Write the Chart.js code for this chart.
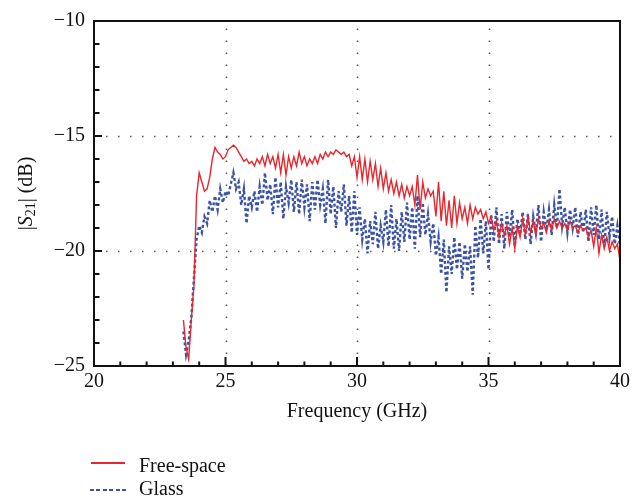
<!DOCTYPE html>
<html>
<head>
<meta charset="utf-8">
<script src="https://cdn.jsdelivr.net/npm/chart.js@4.4.1/dist/chart.umd.min.js"></script>
<style>
    body { margin: 0; background: #fff; }
    #wrap { position: relative; width: 634px; height: 504px; }
    #grafico { position: absolute; left: 0; top: 0; }
    .leg-linha { position: absolute; height: 2px; }
    .leg-texto { position: absolute; font: 20px "Liberation Serif", serif; line-height: 20px; color: #111; }
</style>
</head>
<body>
<div id="wrap">
    <canvas id="grafico" width="634" height="504"></canvas>
    <div class="leg-linha" style="left:91px; top:462px; width:34px; background:#e8262d;"></div>
    <div class="leg-texto" style="left:139px; top:455px;">Free-space</div>
    <div class="leg-linha" style="left:90px; top:489px; width:37px; background:repeating-linear-gradient(90deg, #3b53a4 0 4px, transparent 4px 6.5px);"></div>
    <div class="leg-texto" style="left:139px; top:478px;">Glass</div>
</div>
<script>
// frequencias (GHz)
const frequencias = [
    23.4, 23.5, 23.6, 23.7, 23.8, 23.9, 24.0, 24.1, 24.2, 24.3, 24.4, 24.5, 24.6, 24.7, 24.8, 24.9,
    25.0, 25.1, 25.2, 25.3, 25.4, 25.5, 25.6, 25.7, 25.8, 25.9, 26.0, 26.1, 26.2, 26.3, 26.4, 26.5,
    26.6, 26.7, 26.8, 26.9, 27.0, 27.1, 27.2, 27.3, 27.4, 27.5, 27.6, 27.7, 27.8, 27.9, 28.0, 28.1,
    28.2, 28.3, 28.4, 28.5, 28.6, 28.7, 28.8, 28.9, 29.0, 29.1, 29.2, 29.3, 29.4, 29.5, 29.6, 29.7,
    29.8, 29.9, 30.0, 30.1, 30.2, 30.3, 30.4, 30.5, 30.6, 30.7, 30.8, 30.9, 31.0, 31.1, 31.2, 31.3,
    31.4, 31.5, 31.6, 31.7, 31.8, 31.9, 32.0, 32.1, 32.2, 32.3, 32.4, 32.5, 32.6, 32.7, 32.8, 32.9,
    33.0, 33.1, 33.2, 33.3, 33.4, 33.5, 33.6, 33.7, 33.8, 33.9, 34.0, 34.1, 34.2, 34.3, 34.4, 34.5,
    34.6, 34.7, 34.8, 34.9, 35.0, 35.1, 35.2, 35.3, 35.4, 35.5, 35.6, 35.7, 35.8, 35.9, 36.0, 36.1,
    36.2, 36.3, 36.4, 36.5, 36.6, 36.7, 36.8, 36.9, 37.0, 37.1, 37.2, 37.3, 37.4, 37.5, 37.6, 37.7,
    37.8, 37.9, 38.0, 38.1, 38.2, 38.3, 38.4, 38.5, 38.6, 38.7, 38.8, 38.9, 39.0, 39.1, 39.2, 39.3,
    39.4, 39.5, 39.6, 39.7, 39.8, 39.9, 40.0
];

// |S21| espaco livre (dB)
const espacoLivre = [
    -23.0, -24.2, -24.7, -23.0, -21.5, -17.6, -16.6, -17.0, -17.4, -17.3, -16.8, -16.0, -15.5, -15.7, -15.8, -16.0,
    -15.9, -15.6, -15.5, -15.4, -15.5, -15.7, -15.9, -16.1, -16.0, -16.2, -16.1, -16.3, -16.0, -16.2, -15.9, -16.3,
    -15.8, -16.2, -15.9, -16.4, -15.8, -16.6, -15.8, -16.7, -15.9, -16.4, -15.9, -16.3, -15.7, -16.2, -15.9, -16.3,
    -16.0, -16.2, -15.9, -16.2, -15.8, -16.0, -15.7, -15.9, -15.7, -15.8, -15.6, -15.7, -15.8, -15.7, -15.9, -15.8,
    -16.3, -15.9, -16.8, -15.9, -16.9, -16.0, -17.0, -16.1, -16.9, -16.2, -17.2, -16.4, -17.3, -16.6, -17.4, -16.9,
    -17.5, -17.0, -17.6, -17.1, -17.7, -17.2, -17.6, -17.2, -18.0, -16.7, -18.2, -17.0, -17.7, -17.3, -17.6, -17.4,
    -18.5, -17.0, -18.7, -17.4, -18.9, -17.8, -19.0, -17.6, -18.8, -17.9, -18.6, -18.1, -18.8, -18.0, -18.6, -18.1,
    -18.4, -18.2, -18.6, -18.3, -18.8, -18.5, -19.1, -18.7, -19.4, -18.8, -19.3, -18.9, -19.7, -19.0, -19.9, -18.9,
    -19.4, -18.6, -19.3, -18.5, -19.2, -18.7, -19.3, -18.6, -19.0, -18.8, -19.2, -18.7, -19.1, -18.6, -19.0, -18.7,
    -19.0, -18.8, -19.1, -18.7, -19.0, -18.9, -19.2, -18.9, -19.1, -19.0, -19.4, -19.1, -19.8, -19.0, -20.1, -19.3,
    -19.9, -19.4, -20.0, -19.6, -19.9, -19.7, -20.4
];

// |S21| vidro (dB)
const vidro = [
    -23.5, -24.5, -23.9, -22.9, -21.2, -19.5, -18.9, -19.2, -18.5, -18.8, -17.8, -18.3, -17.6, -18.2, -17.3, -17.9,
    -17.4, -17.6, -17.1, -16.6, -17.3, -17.0, -18.0, -17.3, -18.8, -17.6, -18.1, -17.4, -18.3, -17.2, -18.0, -16.6,
    -17.8, -17.1, -18.4, -16.8, -18.1, -17.0, -18.6, -17.2, -17.9, -16.9, -18.3, -17.0, -18.4, -16.9, -18.1, -17.1,
    -18.7, -17.0, -18.2, -16.9, -18.0, -17.3, -18.8, -16.9, -18.4, -17.2, -19.0, -17.4, -18.3, -17.1, -18.9, -17.6,
    -19.2, -17.4, -19.3, -18.1, -19.5, -18.6, -20.1, -18.7, -19.7, -18.3, -19.9, -18.9, -19.6, -18.2, -19.8, -18.0,
    -19.9, -18.6, -20.0, -18.3, -19.6, -17.9, -19.5, -18.1, -19.9, -17.6, -19.4, -17.9, -19.3, -18.4, -19.6, -18.8,
    -20.2, -19.4, -21.0, -19.5, -21.8, -19.8, -21.0, -19.4, -20.8, -19.6, -21.2, -19.7, -20.9, -19.8, -21.9, -18.9,
    -20.3, -18.6, -20.1, -18.7, -20.8, -18.4, -19.6, -18.1, -19.7, -18.4, -19.9, -18.3, -19.4, -18.2, -19.8, -18.6,
    -19.3, -18.3, -19.5, -18.4, -19.7, -18.5, -19.2, -18.0, -19.6, -18.3, -19.1, -18.2, -19.3, -18.0, -19.0, -17.3,
    -18.9, -18.1, -19.2, -18.2, -19.0, -18.1, -19.4, -18.3, -19.2, -18.2, -19.6, -18.1, -19.3, -18.0, -19.5, -18.2,
    -19.8, -18.3, -19.4, -18.5, -19.7, -18.9, -19.8
];

const ticksX = [20, 25, 30, 35, 40];
const ticksY = [-25, -20, -15, -10];

const FONTE = '"Liberation Serif", "Times New Roman", serif';

function pontos(valores) {
    return valores.map((v, i) => ({ x: frequencias[i], y: v }));
}

// grade pontilhada, ticks para dentro e moldura
const eixosPlugin = {
    id: "eixos",
    beforeDatasetsDraw(chart) {
        const { ctx, chartArea: a, scales: { x, y } } = chart;
        ctx.save();
        ctx.strokeStyle = "#555";
        ctx.lineWidth = 1.5;
        ctx.setLineDash([1.5, 10.5]);
        [25, 30, 35].forEach(v => {
            const px = Math.round(x.getPixelForValue(v)) + 0.5;
            ctx.beginPath();
            ctx.moveTo(px, a.bottom);
            ctx.lineTo(px, a.top);
            ctx.stroke();
        });
        [-15, -20].forEach(v => {
            const py = Math.round(y.getPixelForValue(v)) + 0.5;
            ctx.beginPath();
            ctx.moveTo(a.left, py);
            ctx.lineTo(a.right, py);
            ctx.stroke();
        });
        ctx.restore();
    },
    afterDatasetsDraw(chart) {
        const { ctx, chartArea: a, scales: { x, y } } = chart;
        ctx.save();
        ctx.strokeStyle = "#111";
        ctx.lineWidth = 2;
        for (let v = 21; v < 40; v++) {
            const px = x.getPixelForValue(v);
            const len = v % 5 === 0 ? 9 : 4.5;
            ctx.beginPath();
            ctx.moveTo(px, a.bottom);
            ctx.lineTo(px, a.bottom - len);
            ctx.stroke();
        }
        for (let v = -24; v < -10; v++) {
            const py = y.getPixelForValue(v);
            const len = v % 5 === 0 ? 8 : 5.5;
            ctx.beginPath();
            ctx.moveTo(a.left, py);
            ctx.lineTo(a.left + len, py);
            ctx.stroke();
        }
        ctx.lineWidth = 2;
        ctx.strokeRect(a.left, a.top, a.right - a.left, a.bottom - a.top);

        // titulo do eixo y: |S21| (dB)
        ctx.translate(32, (a.top + a.bottom) / 2);
        ctx.rotate(-Math.PI / 2);
        ctx.fillStyle = "#111";
        ctx.textBaseline = "alphabetic";
        const partes = [
            { t: "|", f: "20px " + FONTE, dy: 0 },
            { t: "S", f: "italic 20px " + FONTE, dy: 0 },
            { t: "21", f: "14px " + FONTE, dy: 3 },
            { t: "| (dB)", f: "20px " + FONTE, dy: 0 }
        ];
        let total = 0;
        partes.forEach(p => { ctx.font = p.f; total += ctx.measureText(p.t).width; });
        let cx = -total / 2;
        partes.forEach(p => {
            ctx.font = p.f;
            ctx.fillText(p.t, cx, p.dy);
            cx += ctx.measureText(p.t).width;
        });
        ctx.restore();
    }
};

new Chart(document.getElementById("grafico"), {
    type: "line",
    data: {
        datasets: [{
            label: "Free-space",
            data: pontos(espacoLivre),
            borderColor: "#e8262d",
            borderWidth: 1.4,
            pointRadius: 0,
            tension: 0
        }, {
            label: "Glass",
            data: pontos(vidro),
            borderColor: "#3b53a4",
            borderWidth: 2.4,
            borderDash: [3, 2.5],
            pointRadius: 0,
            tension: 0
        }]
    },
    options: {
        responsive: false,
        animation: false,
        layout: { padding: { left: 0, right: 12, top: 18, bottom: 0 } },
        plugins: {
            legend: { display: false },
            tooltip: { enabled: false }
        },
        scales: {
            x: {
                type: "linear",
                min: 20,
                max: 40,
                afterBuildTicks: s => { s.ticks = ticksX.map(v => ({ value: v })); },
                afterFit: s => { s.height = 138; },
                grid: { display: false, drawTicks: false },
                border: { display: false },
                ticks: {
                    padding: 4,
                    color: "#111",
                    font: { family: FONTE, size: 20 },
                    maxRotation: 0
                },
                title: {
                    display: true,
                    text: "Frequency (GHz)",
                    color: "#111",
                    font: { family: FONTE, size: 20 },
                    padding: { top: 0, bottom: 80 }
                }
            },
            y: {
                min: -25,
                max: -10,
                afterBuildTicks: s => { s.ticks = ticksY.map(v => ({ value: v })); },
                afterFit: s => { s.width = 94; },
                grid: { display: false, drawTicks: false },
                border: { display: false },
                ticks: {
                    padding: 9,
                    color: "#111",
                    font: { family: FONTE, size: 20 },
                    callback: v => String(v).replace("-", "\u2212")
                }
            }
        }
    },
    plugins: [eixosPlugin]
});
</script>
</body>
</html>
